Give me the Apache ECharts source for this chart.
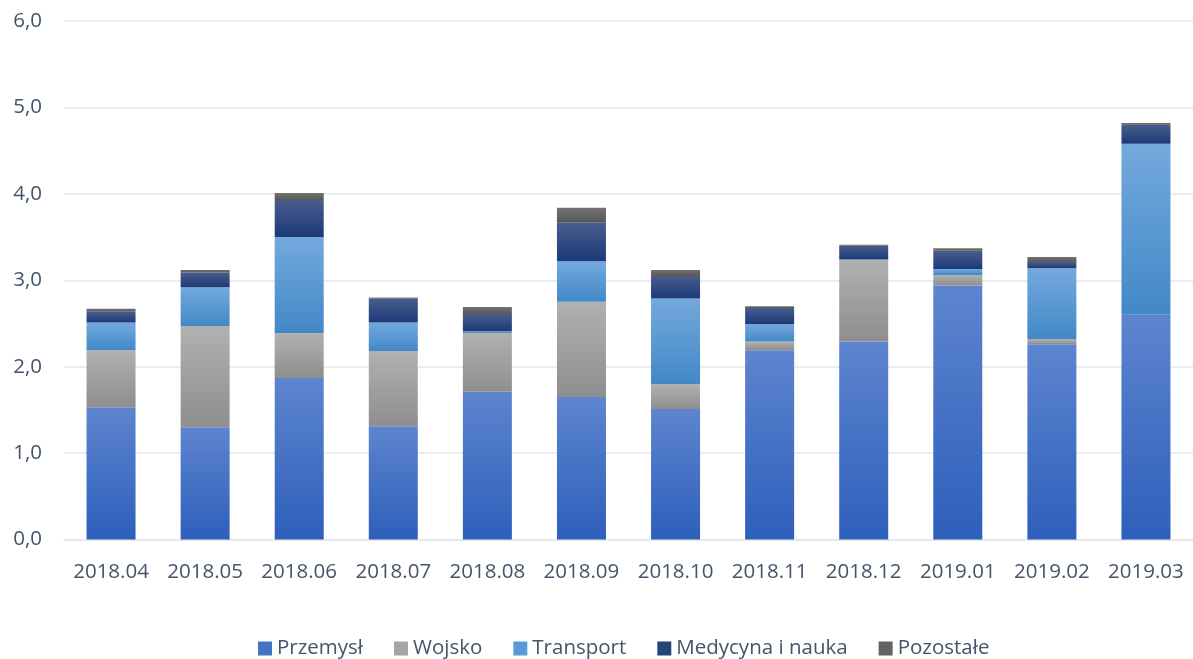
<!DOCTYPE html>
<html>
<head>
<meta charset="utf-8">
<script src="https://cdn.jsdelivr.net/npm/echarts@6/dist/echarts.min.js"></script>
<style>html,body{margin:0;padding:0;background:#fff}#c{width:1193px;height:659px}</style>
</head>
<body>
<div id="c"></div>
<script>
const categories = ['2018.04','2018.05','2018.06','2018.07','2018.08','2018.09','2018.10','2018.11','2018.12','2019.01','2019.02','2019.03'];
const przemysl = [1.53,1.30,1.87,1.31,1.71,1.65,1.51,2.19,2.29,2.94,2.26,2.60];
const wojsko   = [0.66,1.17,0.52,0.87,0.68,1.10,0.29,0.10,0.95,0.12,0.06,0.00];
const transport= [0.32,0.45,1.11,0.33,0.02,0.47,0.99,0.20,0.00,0.07,0.82,1.98];
const medycyna = [0.13,0.17,0.43,0.28,0.20,0.45,0.26,0.19,0.16,0.21,0.07,0.22];
const pozostale= [0.03,0.03,0.08,0.01,0.08,0.17,0.07,0.02,0.01,0.03,0.06,0.02];
const seriesNames = ['Przemysł','Wojsko','Transport','Medycyna i nauka','Pozostałe'];

function grad(top, bottom){
  return new echarts.graphic.LinearGradient(0,0,0,1,[{offset:0,color:top},{offset:1,color:bottom}]);
}
const styles = [
  {fill: grad('#5d85cf','#2e5fbb'), legend:'#4472c4'},
  {fill: grad('#b1b1b1','#8e8e8e'), legend:'#a5a5a5'},
  {fill: grad('#74a9dd','#4288c7'), legend:'#5b9bd5'},
  {fill: grad('#4a5d8c','#1b3a78'), legend:'#264478'},
  {fill: grad('#727272','#585858'), legend:'#636363'}
];
const data = [przemysl, wojsko, transport, medycyna, pozostale];
const font = 'Open Sans, Noto Sans, sans-serif';
const chart = echarts.init(document.getElementById('c'));
chart.setOption({
  animation:false,
  grid:{left:64, top:21, width:1139, height:518.5, containLabel:false},
  legend:{
    top:633, left:253,
    itemWidth:14, itemHeight:14, itemGap:31,
    icon:'rect',
    textStyle:{color:'#44546a', fontSize:20.5, fontFamily:font},
    data: seriesNames.map((n,i)=>({name:n, itemStyle:{color:styles[i].legend}}))
  },
  xAxis:{
    type:'category', data:categories,
    axisLine:{show:true, lineStyle:{color:'#e3e7ed', width:1.5}},
    axisTick:{show:false},
    axisLabel:{color:'#44546a', fontSize:20.5, fontFamily:font, margin:22, interval:0, hideOverlap:false}
  },
  yAxis:{
    type:'value', min:0, max:6, interval:1,
    axisLine:{show:false}, axisTick:{show:false},
    splitLine:{lineStyle:{color:'#e3e7ed', width:1.5}},
    axisLabel:{color:'#44546a', fontSize:20.5, fontFamily:font, margin:22,
      formatter:v=>v.toFixed(1).replace('.',',')}
  },
  series: seriesNames.map((n,i)=>({
    name:n, type:'bar', stack:'total', barWidth:49,
    data:data[i],
    itemStyle:{color:styles[i].fill}
  }))
});
</script>
</body>
</html>
